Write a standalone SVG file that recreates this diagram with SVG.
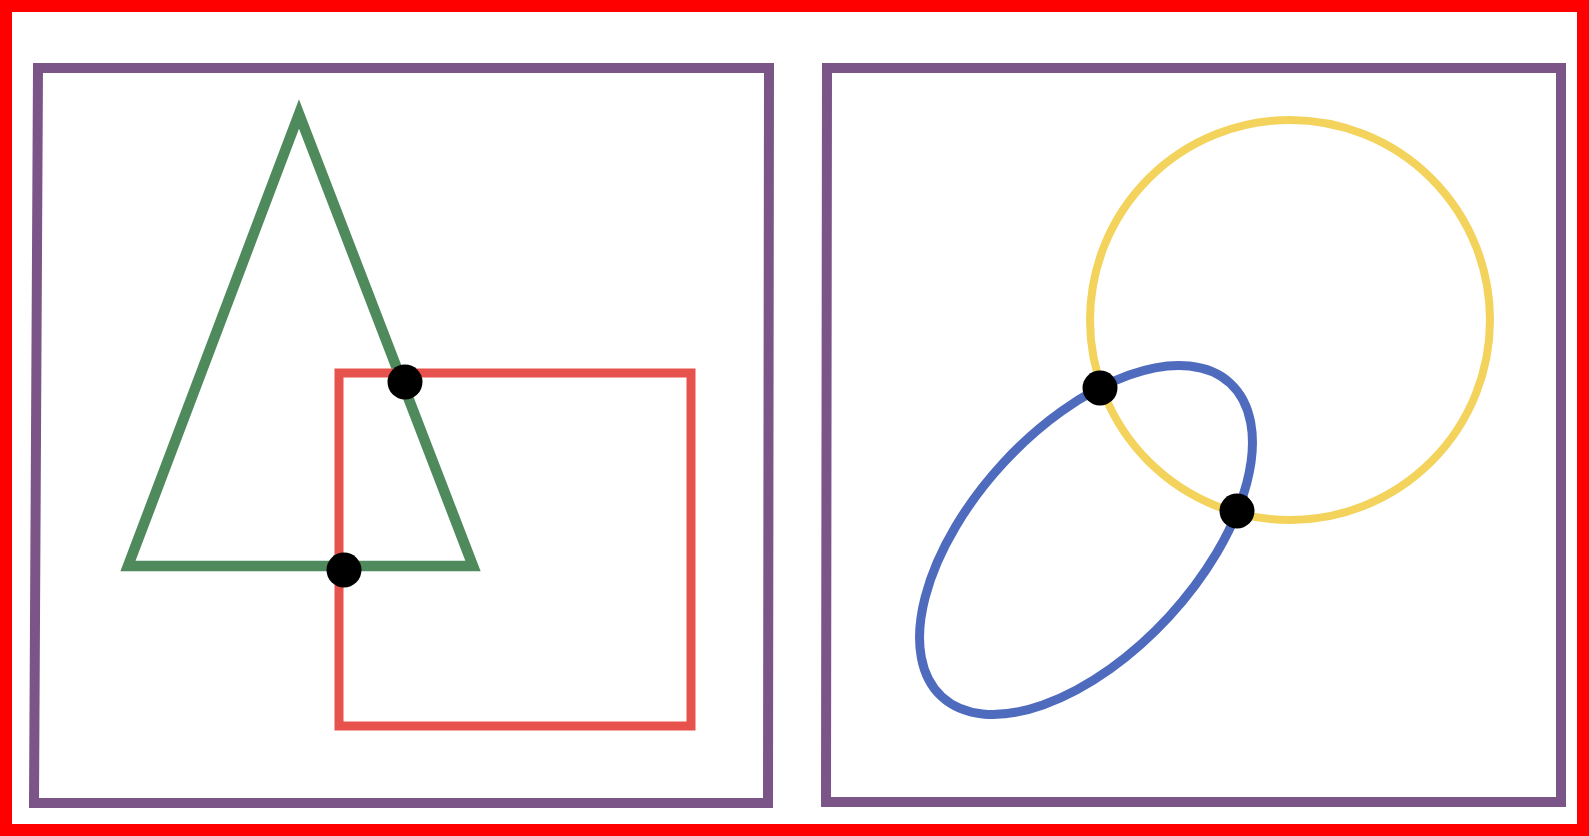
<svg xmlns="http://www.w3.org/2000/svg" width="1589" height="836" viewBox="0 0 1589 836">
  <style>
    .frame{fill:none;stroke:#7b5488;stroke-width:10;stroke-linejoin:miter}
    .shape{fill:none;stroke-linejoin:miter}
    .dot{fill:#000}
  </style>
  <rect x="0" y="0" width="1589" height="836" fill="#ffffff"/>
  <rect id="border" x="6" y="6" width="1577" height="824" fill="none" stroke="#ff0000" stroke-width="12"/>
  <g id="left-panel">
    <polygon class="frame" points="38,68 769,68 768,803 34,803"/>
  </g>
  <g id="right-panel">
    <polygon class="frame" points="827,68 1561,68 1561,802 826,802"/>
  </g>
  <g id="triangle">
    <polygon class="shape" points="299,114 128,566 473,566" stroke="#4f8a5c" stroke-width="10.5"/>
  </g>
  <g id="square">
    <rect class="shape" x="339" y="373" width="352" height="353" stroke="#e8524c" stroke-width="9"/>
  </g>
  <g id="circle">
    <circle class="shape" cx="1290" cy="320" r="200" stroke="#f3d35c" stroke-width="8"/>
  </g>
  <g id="ellipse">
    <ellipse class="shape" cx="0" cy="0" rx="213" ry="113" transform="translate(1086,540) rotate(-47.4)" stroke="#4f6bbd" stroke-width="9"/>
  </g>
  <g id="points">
    <circle class="dot" cx="405" cy="382" r="17.5"/>
    <circle class="dot" cx="344" cy="570" r="17.5"/>
    <circle class="dot" cx="1100" cy="388" r="17.5"/>
    <circle class="dot" cx="1237" cy="511" r="17.5"/>
  </g>
</svg>
